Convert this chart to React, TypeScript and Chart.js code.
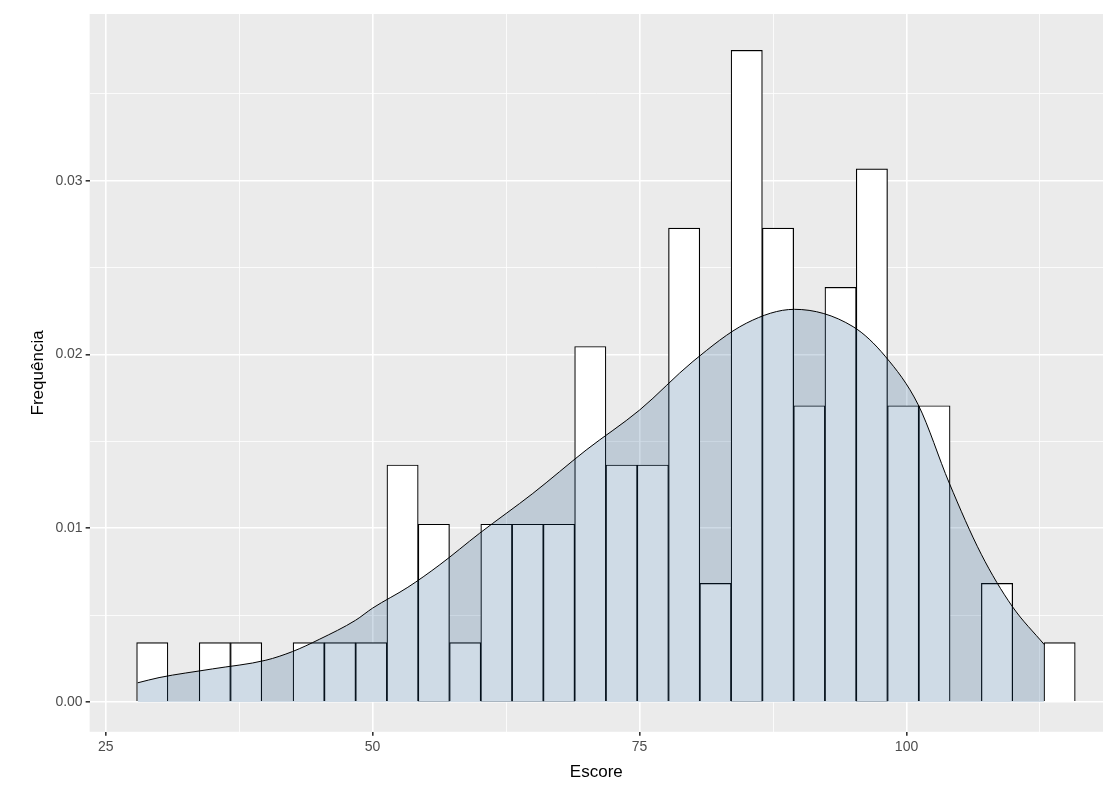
import { useEffect, useRef } from "react";
import { Chart, registerables } from "chart.js";

Chart.register(...registerables);

const binStart = 27.9;
const binWidth = 2.93;
// counts per bin (density = count / (n * width))
const counts = [1, 0, 1, 1, 0, 1, 1, 1, 4, 3, 1, 3, 3, 3, 6, 4, 4, 8, 2, 11, 8, 5, 7, 9, 5, 5, 0, 2, 0, 1];
const densityUnit = 0.00341;

const densityX = [28, 30, 35, 40, 42.5, 45, 48.4, 50, 53.3, 56.3, 60, 65, 70, 75, 80, 85, 89.5, 95, 98, 101.1, 104, 107, 109.9, 112.9];
const densityY = [0.0011, 0.0014, 0.0019, 0.0024, 0.0029, 0.0036, 0.0047, 0.0054, 0.0066, 0.0079, 0.0097, 0.012, 0.0145, 0.0168, 0.0196, 0.0218, 0.0226, 0.0216, 0.0199, 0.0171, 0.0126, 0.0085, 0.0055, 0.0033];

const xTicks = [25, 37.5, 50, 62.5, 75, 87.5, 100, 112.5];
const yTicks = [0, 0.005, 0.01, 0.015, 0.02, 0.025, 0.03, 0.035];

const panelBg = {
  id: "panelBg",
  beforeDraw(chart: Chart) {
    const { ctx, chartArea: a } = chart;
    ctx.save();
    ctx.fillStyle = "#ebebeb";
    ctx.fillRect(a.left, a.top, a.right - a.left, a.bottom - a.top);
    ctx.restore();
  },
};

const isMajor = (v: number, step: number) => Math.abs(v / step - Math.round(v / step)) < 1e-6;
const font = { family: "Arial, Liberation Sans", size: 14 };

export default function App() {
  const canvasRef = useRef<HTMLCanvasElement>(null);

  useEffect(() => {
    document.body.style.margin = "0";
    if (!canvasRef.current) return;
    const bars = counts.map((c, i) => ({ x: binStart + binWidth * (i + 0.5), y: c * densityUnit }));
    const dens = densityX.map((x, i) => ({ x, y: densityY[i] }));
    const chart = new Chart(canvasRef.current, {
      type: "bar",
      data: {
        datasets: [
          {
            type: "bar",
            data: bars,
            backgroundColor: "#ffffff",
            borderColor: "#000000",
            borderWidth: 1.2,
            barPercentage: 1,
            categoryPercentage: 1,
            order: 2,
          },
          {
            type: "line",
            data: dens,
            borderColor: "#000000",
            borderWidth: 1,
            backgroundColor: "rgba(15,75,130,0.2)",
            fill: "origin",
            cubicInterpolationMode: "monotone",
            pointRadius: 0,
            order: 1,
          },
        ] as any,
      },
      options: {
        animation: false,
        responsive: true,
        maintainAspectRatio: false,
        layout: { padding: { top: 14, right: 5, left: 24, bottom: 4 } },
        plugins: { legend: { display: false }, tooltip: { enabled: false } },
        scales: {
          x: {
            type: "linear",
            offset: false,
            min: 23.5,
            max: 118.4,
            afterBuildTicks: (s: any) => { s.ticks = xTicks.map((v) => ({ value: v })); },
            grid: {
              offset: false,
              color: "#ffffff",
              lineWidth: (c: any) => (c.tick && isMajor(c.tick.value, 25) ? 1.6 : 0.8),
              tickColor: (c: any) => (c.tick && isMajor(c.tick.value, 25) ? "#333333" : "rgba(0,0,0,0)"),
              tickLength: 4,
            },
            border: { display: false },
            ticks: {
              color: "#4d4d4d",
              font,
              callback: (v: any) => (isMajor(Number(v), 25) ? String(v) : ""),
              maxRotation: 0,
              autoSkip: false,
            },
            title: { display: true, text: "Escore", color: "#000000", font: { ...font, size: 17 } },
          },
          y: {
            min: -0.00172,
            max: 0.0396,
            afterBuildTicks: (s: any) => { s.ticks = yTicks.map((v) => ({ value: v })); },
            grid: {
              color: "#ffffff",
              lineWidth: (c: any) => (c.tick && isMajor(c.tick.value, 0.01) ? 1.6 : 0.8),
              tickColor: (c: any) => (c.tick && isMajor(c.tick.value, 0.01) ? "#333333" : "rgba(0,0,0,0)"),
              tickLength: 4,
            },
            border: { display: false },
            ticks: {
              color: "#4d4d4d",
              font,
              callback: (v: any) => (isMajor(Number(v), 0.01) ? Number(v).toFixed(2) : ""),
              autoSkip: false,
            },
            title: { display: true, text: "Frequência", color: "#000000", font: { ...font, size: 17 } },
          },
        },
      },
      plugins: [panelBg],
    });
    return () => chart.destroy();
  }, []);

  return (
    <div style={{ width: 1108, height: 791, background: "#ffffff" }}>
      <canvas ref={canvasRef} />
    </div>
  );
}
